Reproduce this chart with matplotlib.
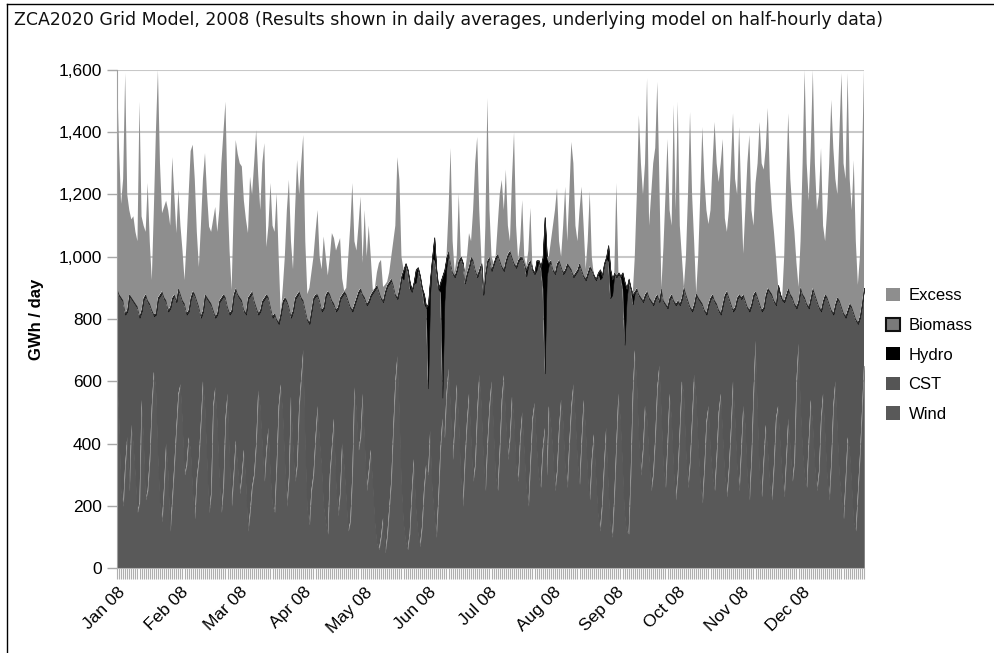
import numpy as np
import pandas as pd
import matplotlib
matplotlib.use("Agg")
import matplotlib.pyplot as plt
import matplotlib.dates as mdates
from matplotlib.lines import Line2D
from matplotlib.patches import Patch
from matplotlib.ticker import FuncFormatter

# daily values for 2008, GWh/day, one list per month
demand = [
    # Jan
    900, 880, 870, 860, 820, 830, 880, 870, 860, 850, 840, 810, 830, 870, 880, 860,
    850, 830, 815, 820, 870, 880, 890, 870, 860, 830, 840, 870, 880, 860, 900,
    # Feb
    880, 860, 850, 820, 830, 870, 890, 880, 860, 840, 810, 830, 880, 870, 860, 850,
    830, 810, 820, 860, 870, 880, 870, 840, 820, 830, 880, 900, 880,
    # Mar
    870, 860, 830, 820, 870, 880, 890, 860, 840, 820, 830, 860, 870, 880, 870, 840,
    810, 820, 800, 790, 820, 860, 870, 860, 840, 810, 830, 870, 880, 890, 870,
    # Apr
    860, 830, 800, 790, 830, 870, 880, 880, 860, 830, 840, 880, 890, 880, 860, 850,
    830, 840, 870, 880, 890, 880, 860, 840, 830, 850, 870, 890, 900, 880,
    # May
    870, 850, 860, 880, 890, 900, 910, 890, 870, 860, 890, 910, 920, 930, 910, 880,
    870, 900, 940, 960, 980, 960, 920, 893, 920, 960, 967, 940, 900, 880, 840,
    # Jun
    850, 930, 1000, 1063, 960, 900, 920, 940, 960, 1000, 1020, 980, 950, 940, 960,
    990, 1000, 980, 920, 950, 970, 1000, 990, 960, 940, 960, 980, 883, 950, 990,
    # Jul
    1000, 960, 980, 1000, 1010, 990, 970, 960, 990, 1010, 1020, 1000, 980, 970, 990,
    1000, 1000, 980, 960, 980, 990, 960, 950, 990, 990, 970, 1000, 1128, 1000, 980, 990,
    # Aug
    960, 950, 980, 990, 970, 950, 960, 980, 970, 960, 940, 950, 960, 980, 960, 940,
    930, 950, 970, 960, 940, 930, 950, 960, 940, 980, 1000, 1038, 960, 930, 950,
    # Sep
    940, 950, 940, 950, 920, 900, 930, 900, 880, 890, 900, 880, 870, 860, 880, 890,
    870, 860, 850, 870, 880, 860, 900, 860, 850, 840, 870, 880, 860, 850,
    # Oct
    860, 850, 870, 903, 880, 860, 840, 830, 850, 883, 870, 860, 850, 830, 820, 850,
    870, 880, 860, 850, 830, 820, 850, 880, 890, 870, 850, 830, 840, 870, 880,
    # Nov
    870, 880, 860, 840, 830, 850, 880, 890, 870, 850, 830, 840, 880, 900, 890, 880,
    860, 850, 910, 880, 866, 860, 880, 900, 880, 870, 850, 840, 860, 903,
    # Dec
    880, 870, 850, 840, 870, 900, 880, 860, 840, 830, 860, 880, 870, 850, 830, 820,
    850, 870, 860, 840, 820, 810, 830, 850, 840, 820, 800, 790, 810, 850, 900,
]

# total generation available (demand + excess)
total = [
    # Jan
    1600, 1350, 1170, 1250, 1590, 1200, 1150, 1120, 1130, 1080, 1050, 1498, 1130, 1100,
    1080, 1237, 1050, 925, 1150, 1400, 1600, 1300, 1140, 1160, 1180, 1150, 1100, 1320,
    1200, 1076, 1214,
    # Feb
    1100, 1020, 925, 1050, 1200, 1340, 1360, 1250, 1080, 967, 1100, 1250, 1333, 1200,
    1097, 1080, 1120, 1160, 1080, 1150, 1300, 1400, 1498, 1200, 1020, 893, 1150, 1375, 1330,
    # Mar
    1300, 1290, 1180, 1120, 1076, 1257, 1200, 1300, 1407, 1262, 1150, 1300, 1365, 1031,
    1100, 1237, 1100, 1080, 1204, 1000, 820, 900, 1000, 1150, 1247, 1050, 960, 1150,
    1311, 1200, 1300,
    # Apr
    1391, 1050, 880, 900, 950, 1000, 1080, 1150, 1000, 960, 1065, 1000, 940, 1000,
    1076, 1060, 1020, 1040, 1060, 930, 880, 900, 1000, 1100, 1237, 1050, 1020, 1100,
    1193, 980,
    # May
    1150, 1000, 1100, 1000, 893, 900, 950, 980, 990, 903, 910, 920, 950, 1000, 1050,
    1100, 1320, 1247, 1000, 960, 980, 960, 920, 893, 920, 960, 967, 940, 900, 880, 840,
    # Jun
    850, 930, 1000, 1063, 960, 900, 920, 940, 960, 1000, 1150, 1349, 1050, 950, 1000,
    1204, 1000, 980, 950, 1000, 1076, 1050, 1150, 1300, 1385, 1150, 1000, 883, 1100, 1510,
    # Jul
    1150, 1000, 980, 1000, 1100, 1200, 1247, 1150, 1280, 1100, 1050, 1250, 1400, 1100,
    990, 1050, 1182, 1000, 970, 1020, 1157, 960, 950, 990, 990, 970, 1000, 1128, 1000,
    1000, 1050,
    # Aug
    1100, 1150, 1220, 1050, 1000, 1100, 1225, 1050, 1200, 1369, 1300, 1100, 1050, 1150,
    1225, 1100, 960, 1050, 1210, 1000, 940, 930, 950, 960, 940, 980, 1000, 1038, 960,
    930, 950,
    # Sep
    1237, 950, 940, 950, 920, 900, 930, 900, 880, 1000, 1200, 1455, 1300, 1200, 1300,
    1574, 1100, 1200, 1300, 1350, 1562, 1250, 900, 1031, 1200, 1378, 1150, 1100, 1488, 1150,
    # Oct
    1498, 1100, 1000, 903, 1000, 1200, 1465, 1200, 1050, 883, 1000, 1200, 1417, 1250,
    1150, 1105, 1150, 1300, 1433, 1300, 1240, 1300, 1378, 1124, 1080, 1150, 1300, 1461,
    1250, 1200, 1417,
    # Nov
    1200, 1010, 1150, 1300, 1391, 1150, 1100, 1237, 1300, 1433, 1300, 1280, 1350, 1478,
    1250, 1150, 1080, 1000, 910, 880, 866, 1000, 1250, 1461, 1250, 1150, 1080, 980, 903, 1050,
    # Dec
    1300, 1600, 1300, 1180, 1350, 1600, 1300, 1150, 1200, 1349, 1100, 1050, 1150, 1300,
    1504, 1350, 1250, 1200, 1400, 1590, 1300, 1250, 1590, 1250, 1150, 1310, 1050, 910,
    1000, 1300, 1600,
]

wind = [
    # Jan
    620, 480, 250, 200, 330, 420, 250, 460, 400, 300, 180, 210, 540, 420, 220, 250,
    350, 520, 630, 580, 370, 210, 150, 260, 400, 310, 120, 220, 330, 450, 560,
    # Feb
    590, 470, 300, 330, 420, 380, 250, 160, 290, 350, 470, 600, 520, 350, 180, 240,
    520, 580, 470, 300, 180, 260, 480, 560, 360, 200, 300, 410, 330,
    # Mar
    240, 300, 380, 280, 120, 180, 260, 300, 400, 570, 520, 400, 280, 380, 450, 300,
    200, 180, 330, 520, 590, 500, 350, 200, 290, 550, 400, 280, 330, 520, 610,
    # Apr
    700, 400, 190, 140, 250, 300, 420, 520, 410, 330, 200, 150, 110, 300, 390, 480,
    280, 170, 240, 400, 330, 230, 120, 150, 300, 580, 510, 380, 420, 560,
    # May
    410, 250, 310, 380, 270, 150, 80, 60, 100, 160, 50, 100, 190, 280, 450, 600,
    680, 500, 270, 150, 90, 60, 110, 240, 350, 200, 120, 70, 130, 250, 330,
    # Jun
    300, 440, 260, 180, 100, 220, 380, 480, 420, 560, 640, 520, 350, 460, 590, 480,
    300, 200, 350, 470, 560, 420, 280, 330, 500, 620, 530, 370, 250, 400,
    # Jul
    520, 600, 450, 300, 250, 380, 540, 620, 480, 350, 420, 550, 480, 330, 280, 420,
    500, 380, 260, 200, 340, 480, 530, 400, 300, 260, 380, 450, 300, 520, 460,
    # Aug
    380, 250, 310, 450, 540, 470, 330, 260, 400, 520, 590, 480, 350, 270, 410, 540,
    450, 300, 220, 350, 430, 300, 180, 120, 200, 330, 450, 280, 140, 100, 230,
    # Sep
    400, 560, 480, 340, 180, 120, 110, 300, 560, 700, 600, 420, 300, 380, 520, 480,
    360, 250, 300, 420, 580, 650, 500, 330, 260, 400, 560, 480, 320, 220,
    # Oct
    300, 450, 600, 560, 380, 260, 340, 480, 620, 550, 400, 280, 210, 320, 470, 520,
    380, 300, 250, 360, 500, 560, 430, 300, 230, 320, 450, 600, 480, 330, 250,
    # Nov
    380, 520, 460, 300, 220, 350, 560, 730, 500, 300, 230, 350, 460, 380, 270, 220,
    330, 480, 520, 410, 300, 230, 350, 480, 390, 280, 340, 600, 720, 520,
    # Dec
    380, 300, 260, 410, 540, 460, 330, 250, 310, 480, 560, 430, 300, 220, 340, 520,
    600, 450, 300, 230, 160, 280, 420, 380, 270, 150, 120, 240, 360, 500, 650,
]

# hydro runs at a trickle except on a few days (day of year -> GWh)
hydro_base = 3
hydro_days = [140, 143, 146, 150, 152, 153, 155, 158, 159, 160, 161,
              200, 205, 208, 209, 210, 236, 240, 241, 242, 247, 248, 249, 252]
hydro_vals = [30, 20, 40, 30, 270, 50, 70, 30, 390, 100, 30,
              20, 30, 100, 500, 60, 30, 50, 90, 50, 50, 200, 40, 30]
biomass_base = 3

days = pd.date_range("2008-01-01", periods=366, freq="D")
demand = np.array(demand, dtype=float)
total = np.maximum(np.array(total, dtype=float), demand)
wind = np.array(wind, dtype=float)
hydro = np.full(366, hydro_base, dtype=float)
hydro[hydro_days] = hydro_vals
biomass = np.full(366, biomass_base, dtype=float)
cst = np.clip(demand - wind - hydro - biomass, 0, None)
excess = total - demand

plt.rcParams["font.family"] = ["Liberation Sans", "DejaVu Sans"]

fig = plt.figure(figsize=(9.94, 6.53), dpi=100)
ax = fig.add_axes([117 / 994, 85 / 653, 747 / 994, 498 / 653])

colors = ["#595959", "#555555", "#000000", "#7a7a7a", "#8e8e8e"]
polys = ax.stackplot(days, wind, cst, hydro, biomass, excess,
                     colors=colors, linewidth=0)
polys[0].set_edgecolor("#676767")
polys[0].set_linewidth(0.4)
polys[2].set_edgecolor("#000000")
polys[2].set_linewidth(0.3)
polys[3].set_edgecolor("#2a2a2a")
polys[3].set_linewidth(0.5)

ax.set_xlim(days[0], days[-1])
ax.set_ylim(0, 1600)
ax.set_yticks(np.arange(0, 1601, 200))
ax.yaxis.set_major_formatter(FuncFormatter(lambda v, p: f"{int(v):,}"))
ax.yaxis.grid(True, color="#c8c8c8", linewidth=1.5)
ax.set_axisbelow(True)

ax.xaxis.set_major_locator(mdates.MonthLocator())
ax.xaxis.set_major_formatter(mdates.DateFormatter("%b %y"))
ax.xaxis.set_minor_locator(mdates.DayLocator())
ax.tick_params(axis="x", which="both", length=8, width=0.8, color="#b0b0b0",
               labelsize=12.5, pad=4)
ax.tick_params(axis="y", length=7, width=1, color="#a8a8a8", labelsize=12.5, pad=4)
for lbl in ax.get_xticklabels():
    lbl.set_rotation(45)
    lbl.set_ha("right")
    lbl.set_rotation_mode("anchor")

for s in ["top", "right"]:
    ax.spines[s].set_visible(False)
ax.spines["left"].set_color("#a0a0a0")
ax.spines["bottom"].set_color("#b0b0b0")

ax.set_ylabel("GWh / day", fontsize=12, fontweight="bold", labelpad=10)

handles = [
    Patch(facecolor="#8e8e8e", edgecolor="none", label="Excess"),
    Patch(facecolor="#7a7a7a", edgecolor="#111111", linewidth=1.5, label="Biomass"),
    Patch(facecolor="#000000", edgecolor="none", label="Hydro"),
    Patch(facecolor="#555555", edgecolor="none", label="CST"),
    Patch(facecolor="#595959", edgecolor="none", label="Wind"),
]
fig.legend(handles=handles, loc="upper left", bbox_to_anchor=(886 / 994, 1 - 288 / 653),
           frameon=False, fontsize=12, handlelength=0.85, handleheight=0.85,
           handletextpad=0.5, labelspacing=0.85, borderpad=0, borderaxespad=0)

fig.text(14 / 994, 1 - 20 / 653,
         "ZCA2020 Grid Model, 2008 (Results shown in daily averages, underlying model on half-hourly data)",
         fontsize=12.5, family="DejaVu Sans", va="center", ha="left", color="#111111")

# frame lines along the top and left edge
fig.add_artist(Line2D([7 / 994, 7 / 994], [0, 1 - 4 / 653], color="black", lw=1))
fig.add_artist(Line2D([7 / 994, 1], [1 - 4 / 653, 1 - 4 / 653], color="black", lw=1))

fig.savefig("out.png", dpi=100)
